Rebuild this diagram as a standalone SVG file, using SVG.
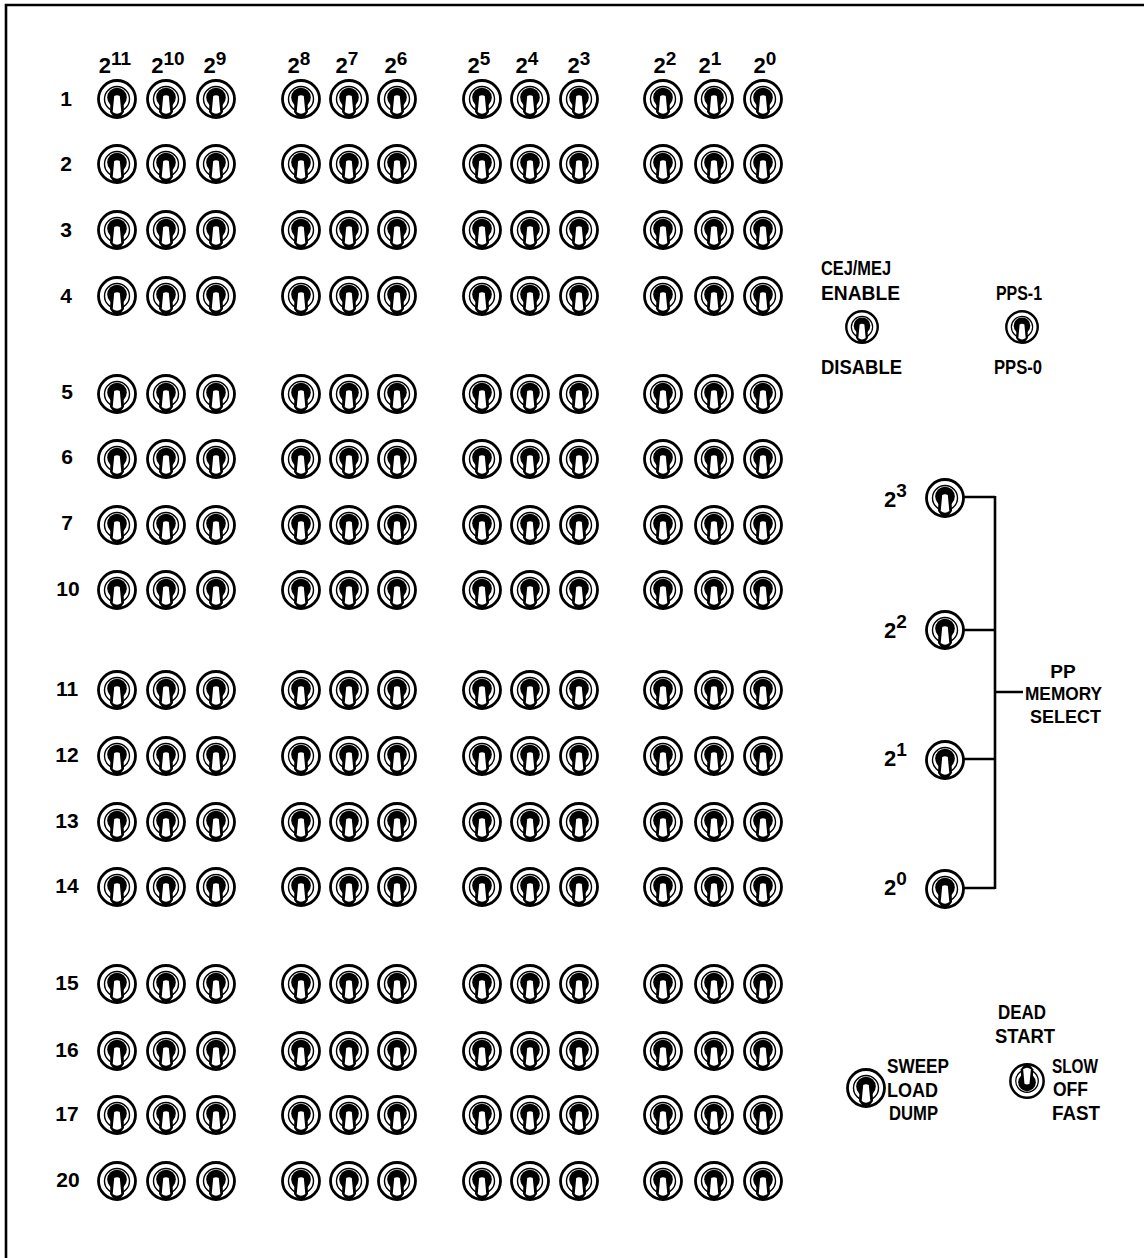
<svg xmlns="http://www.w3.org/2000/svg" width="1144" height="1258" viewBox="0 0 1144 1258">
<style>
text { font-family: "Liberation Sans", Arial, sans-serif; font-weight: bold; fill: #000; }
.rl { font-size: 21px; text-anchor: middle; }
.hd { font-size: 22px; text-anchor: middle; }
.sup { font-size: 19px; }
.lb { font-size: 21px; }
.lbs { font-size: 19px; }
.wire { stroke: #000; stroke-width: 2.6; fill: none; }
.frame { stroke: #000; stroke-width: 2.6; fill: none; }
</style>
<defs>
<g id="sw">
<circle r="18.5" fill="#fff" stroke="#000" stroke-width="2.8"/>
<circle r="12.5" fill="none" stroke="#000" stroke-width="1.4"/>
<circle cy="-1.5" r="9.8" fill="#000"/>
<path d="M-6.5,3 L-7,13 Q-3,19 0,19.5 Q3,19 7,13 L6.5,3 Z" fill="#000"/>
<path d="M-2.8,-3 Q0,-4.5 2.8,-3 L4.3,13 Q0,16.5 -4.3,13 Z" fill="#fff"/>
</g>
<g id="sws"><use href="#sw" transform="scale(0.85)"/></g>
<g id="swu"><use href="#sw" transform="rotate(180) scale(0.9)"/></g>
</defs>

<path class="frame" d="M6,1258 V5 H1144"/>

<g id="headers">
<text class="hd" x="115" y="73">2<tspan class="sup" dy="-8">11</tspan></text>
<text class="hd" x="168" y="73">2<tspan class="sup" dy="-8">10</tspan></text>
<text class="hd" x="215" y="73">2<tspan class="sup" dy="-8">9</tspan></text>
<text class="hd" x="299" y="73">2<tspan class="sup" dy="-8">8</tspan></text>
<text class="hd" x="347" y="73">2<tspan class="sup" dy="-8">7</tspan></text>
<text class="hd" x="396" y="73">2<tspan class="sup" dy="-8">6</tspan></text>
<text class="hd" x="479" y="73">2<tspan class="sup" dy="-8">5</tspan></text>
<text class="hd" x="527" y="73">2<tspan class="sup" dy="-8">4</tspan></text>
<text class="hd" x="579" y="73">2<tspan class="sup" dy="-8">3</tspan></text>
<text class="hd" x="665" y="73">2<tspan class="sup" dy="-8">2</tspan></text>
<text class="hd" x="710" y="73">2<tspan class="sup" dy="-8">1</tspan></text>
<text class="hd" x="765" y="73">2<tspan class="sup" dy="-8">0</tspan></text>
</g>

<g id="row-1"><text class="rl" x="66" y="106">1</text>
<use href="#sw" x="117" y="99"/><use href="#sw" x="166" y="99"/><use href="#sw" x="216" y="99"/><use href="#sw" x="301" y="99"/><use href="#sw" x="349" y="99"/><use href="#sw" x="397" y="99"/><use href="#sw" x="482" y="99"/><use href="#sw" x="530" y="99"/><use href="#sw" x="579" y="99"/><use href="#sw" x="663" y="99"/><use href="#sw" x="714" y="99"/><use href="#sw" x="763" y="99"/></g>
<g id="row-2"><text class="rl" x="66" y="171">2</text>
<use href="#sw" x="117" y="164"/><use href="#sw" x="166" y="164"/><use href="#sw" x="216" y="164"/><use href="#sw" x="301" y="164"/><use href="#sw" x="349" y="164"/><use href="#sw" x="397" y="164"/><use href="#sw" x="482" y="164"/><use href="#sw" x="530" y="164"/><use href="#sw" x="579" y="164"/><use href="#sw" x="663" y="164"/><use href="#sw" x="714" y="164"/><use href="#sw" x="763" y="164"/></g>
<g id="row-3"><text class="rl" x="66" y="237">3</text>
<use href="#sw" x="117" y="230"/><use href="#sw" x="166" y="230"/><use href="#sw" x="216" y="230"/><use href="#sw" x="301" y="230"/><use href="#sw" x="349" y="230"/><use href="#sw" x="397" y="230"/><use href="#sw" x="482" y="230"/><use href="#sw" x="530" y="230"/><use href="#sw" x="579" y="230"/><use href="#sw" x="663" y="230"/><use href="#sw" x="714" y="230"/><use href="#sw" x="763" y="230"/></g>
<g id="row-4"><text class="rl" x="66" y="303">4</text>
<use href="#sw" x="117" y="296"/><use href="#sw" x="166" y="296"/><use href="#sw" x="216" y="296"/><use href="#sw" x="301" y="296"/><use href="#sw" x="349" y="296"/><use href="#sw" x="397" y="296"/><use href="#sw" x="482" y="296"/><use href="#sw" x="530" y="296"/><use href="#sw" x="579" y="296"/><use href="#sw" x="663" y="296"/><use href="#sw" x="714" y="296"/><use href="#sw" x="763" y="296"/></g>
<g id="row-5"><text class="rl" x="67" y="399">5</text>
<use href="#sw" x="117" y="394"/><use href="#sw" x="166" y="394"/><use href="#sw" x="216" y="394"/><use href="#sw" x="301" y="394"/><use href="#sw" x="349" y="394"/><use href="#sw" x="397" y="394"/><use href="#sw" x="482" y="394"/><use href="#sw" x="530" y="394"/><use href="#sw" x="579" y="394"/><use href="#sw" x="663" y="394"/><use href="#sw" x="714" y="394"/><use href="#sw" x="763" y="394"/></g>
<g id="row-6"><text class="rl" x="67" y="464">6</text>
<use href="#sw" x="117" y="459"/><use href="#sw" x="166" y="459"/><use href="#sw" x="216" y="459"/><use href="#sw" x="301" y="459"/><use href="#sw" x="349" y="459"/><use href="#sw" x="397" y="459"/><use href="#sw" x="482" y="459"/><use href="#sw" x="530" y="459"/><use href="#sw" x="579" y="459"/><use href="#sw" x="663" y="459"/><use href="#sw" x="714" y="459"/><use href="#sw" x="763" y="459"/></g>
<g id="row-7"><text class="rl" x="67" y="530">7</text>
<use href="#sw" x="117" y="525"/><use href="#sw" x="166" y="525"/><use href="#sw" x="216" y="525"/><use href="#sw" x="301" y="525"/><use href="#sw" x="349" y="525"/><use href="#sw" x="397" y="525"/><use href="#sw" x="482" y="525"/><use href="#sw" x="530" y="525"/><use href="#sw" x="579" y="525"/><use href="#sw" x="663" y="525"/><use href="#sw" x="714" y="525"/><use href="#sw" x="763" y="525"/></g>
<g id="row-10"><text class="rl" x="68" y="596">10</text>
<use href="#sw" x="117" y="590"/><use href="#sw" x="166" y="590"/><use href="#sw" x="216" y="590"/><use href="#sw" x="301" y="590"/><use href="#sw" x="349" y="590"/><use href="#sw" x="397" y="590"/><use href="#sw" x="482" y="590"/><use href="#sw" x="530" y="590"/><use href="#sw" x="579" y="590"/><use href="#sw" x="663" y="590"/><use href="#sw" x="714" y="590"/><use href="#sw" x="763" y="590"/></g>
<g id="row-11"><text class="rl" x="67" y="696">11</text>
<use href="#sw" x="117" y="690"/><use href="#sw" x="166" y="690"/><use href="#sw" x="216" y="690"/><use href="#sw" x="301" y="690"/><use href="#sw" x="349" y="690"/><use href="#sw" x="397" y="690"/><use href="#sw" x="482" y="690"/><use href="#sw" x="530" y="690"/><use href="#sw" x="579" y="690"/><use href="#sw" x="663" y="690"/><use href="#sw" x="714" y="690"/><use href="#sw" x="763" y="690"/></g>
<g id="row-12"><text class="rl" x="67" y="762">12</text>
<use href="#sw" x="117" y="756"/><use href="#sw" x="166" y="756"/><use href="#sw" x="216" y="756"/><use href="#sw" x="301" y="756"/><use href="#sw" x="349" y="756"/><use href="#sw" x="397" y="756"/><use href="#sw" x="482" y="756"/><use href="#sw" x="530" y="756"/><use href="#sw" x="579" y="756"/><use href="#sw" x="663" y="756"/><use href="#sw" x="714" y="756"/><use href="#sw" x="763" y="756"/></g>
<g id="row-13"><text class="rl" x="67" y="828">13</text>
<use href="#sw" x="117" y="822"/><use href="#sw" x="166" y="822"/><use href="#sw" x="216" y="822"/><use href="#sw" x="301" y="822"/><use href="#sw" x="349" y="822"/><use href="#sw" x="397" y="822"/><use href="#sw" x="482" y="822"/><use href="#sw" x="530" y="822"/><use href="#sw" x="579" y="822"/><use href="#sw" x="663" y="822"/><use href="#sw" x="714" y="822"/><use href="#sw" x="763" y="822"/></g>
<g id="row-14"><text class="rl" x="67" y="893">14</text>
<use href="#sw" x="117" y="887"/><use href="#sw" x="166" y="887"/><use href="#sw" x="216" y="887"/><use href="#sw" x="301" y="887"/><use href="#sw" x="349" y="887"/><use href="#sw" x="397" y="887"/><use href="#sw" x="482" y="887"/><use href="#sw" x="530" y="887"/><use href="#sw" x="579" y="887"/><use href="#sw" x="663" y="887"/><use href="#sw" x="714" y="887"/><use href="#sw" x="763" y="887"/></g>
<g id="row-15"><text class="rl" x="67" y="990">15</text>
<use href="#sw" x="117" y="984"/><use href="#sw" x="166" y="984"/><use href="#sw" x="216" y="984"/><use href="#sw" x="301" y="984"/><use href="#sw" x="349" y="984"/><use href="#sw" x="397" y="984"/><use href="#sw" x="482" y="984"/><use href="#sw" x="530" y="984"/><use href="#sw" x="579" y="984"/><use href="#sw" x="663" y="984"/><use href="#sw" x="714" y="984"/><use href="#sw" x="763" y="984"/></g>
<g id="row-16"><text class="rl" x="67" y="1057">16</text>
<use href="#sw" x="117" y="1051"/><use href="#sw" x="166" y="1051"/><use href="#sw" x="216" y="1051"/><use href="#sw" x="301" y="1051"/><use href="#sw" x="349" y="1051"/><use href="#sw" x="397" y="1051"/><use href="#sw" x="482" y="1051"/><use href="#sw" x="530" y="1051"/><use href="#sw" x="579" y="1051"/><use href="#sw" x="663" y="1051"/><use href="#sw" x="714" y="1051"/><use href="#sw" x="763" y="1051"/></g>
<g id="row-17"><text class="rl" x="67" y="1121">17</text>
<use href="#sw" x="117" y="1115"/><use href="#sw" x="166" y="1115"/><use href="#sw" x="216" y="1115"/><use href="#sw" x="301" y="1115"/><use href="#sw" x="349" y="1115"/><use href="#sw" x="397" y="1115"/><use href="#sw" x="482" y="1115"/><use href="#sw" x="530" y="1115"/><use href="#sw" x="579" y="1115"/><use href="#sw" x="663" y="1115"/><use href="#sw" x="714" y="1115"/><use href="#sw" x="763" y="1115"/></g>
<g id="row-20"><text class="rl" x="68" y="1187">20</text>
<use href="#sw" x="117" y="1181"/><use href="#sw" x="166" y="1181"/><use href="#sw" x="216" y="1181"/><use href="#sw" x="301" y="1181"/><use href="#sw" x="349" y="1181"/><use href="#sw" x="397" y="1181"/><use href="#sw" x="482" y="1181"/><use href="#sw" x="530" y="1181"/><use href="#sw" x="579" y="1181"/><use href="#sw" x="663" y="1181"/><use href="#sw" x="714" y="1181"/><use href="#sw" x="763" y="1181"/></g>

<g id="cej-mej">
<text class="lb" x="821" y="275" textLength="70" lengthAdjust="spacingAndGlyphs">CEJ/MEJ</text>
<text class="lb" x="821" y="300" textLength="79" lengthAdjust="spacingAndGlyphs">ENABLE</text>
<use href="#sws" x="862" y="327"/>
<text class="lb" x="821" y="374" textLength="81" lengthAdjust="spacingAndGlyphs">DISABLE</text>
</g>
<g id="pps">
<text class="lb" x="996" y="300" textLength="46" lengthAdjust="spacingAndGlyphs">PPS-1</text>
<use href="#sws" x="1022" y="327"/>
<text class="lb" x="994" y="374" textLength="48" lengthAdjust="spacingAndGlyphs">PPS-0</text>
</g>

<g id="pp-memory-select">
<g id="pm-3"><text class="hd" x="884" y="507" style="text-anchor:start">2<tspan class="sup" dy="-10">3</tspan></text><use href="#sw" x="945" y="498"/></g>
<g id="pm-2"><text class="hd" x="884" y="638" style="text-anchor:start">2<tspan class="sup" dy="-10">2</tspan></text><use href="#sw" x="945" y="630"/></g>
<g id="pm-1"><text class="hd" x="884" y="766" style="text-anchor:start">2<tspan class="sup" dy="-10">1</tspan></text><use href="#sw" x="945" y="760"/></g>
<g id="pm-0"><text class="hd" x="884" y="895" style="text-anchor:start">2<tspan class="sup" dy="-10">0</tspan></text><use href="#sw" x="945" y="889"/></g>
<g id="pm-label">
<text class="lbs" x="1063" y="678" style="text-anchor:middle">PP</text>
<text class="lbs" x="1025" y="700" textLength="77" lengthAdjust="spacingAndGlyphs">MEMORY</text>
<text class="lbs" x="1030" y="723" textLength="71" lengthAdjust="spacingAndGlyphs">SELECT</text>
</g>
</g>

<g id="connectors">
<path class="wire" d="M964,497 H995 M964,630 H995 M964,759 H995 M964,888 H995 M995,496 V889 M995,692 H1023"/>
</g>

<g id="sweep">
<use href="#sw" x="866" y="1088"/>
<text class="lb" x="887" y="1073" textLength="62" lengthAdjust="spacingAndGlyphs">SWEEP</text>
<text class="lb" x="887" y="1097" textLength="51" lengthAdjust="spacingAndGlyphs">LOAD</text>
<text class="lb" x="889" y="1120" textLength="49" lengthAdjust="spacingAndGlyphs">DUMP</text>
</g>
<g id="dead-start">
<text class="lb" x="998" y="1019" textLength="48" lengthAdjust="spacingAndGlyphs">DEAD</text>
<text class="lb" x="995" y="1043" textLength="60" lengthAdjust="spacingAndGlyphs">START</text>
<use href="#swu" x="1027" y="1081"/>
<text class="lb" x="1052" y="1073" textLength="46" lengthAdjust="spacingAndGlyphs">SLOW</text>
<text class="lb" x="1053" y="1096" textLength="35" lengthAdjust="spacingAndGlyphs">OFF</text>
<text class="lb" x="1052" y="1120" textLength="48" lengthAdjust="spacingAndGlyphs">FAST</text>
</g>
</svg>
